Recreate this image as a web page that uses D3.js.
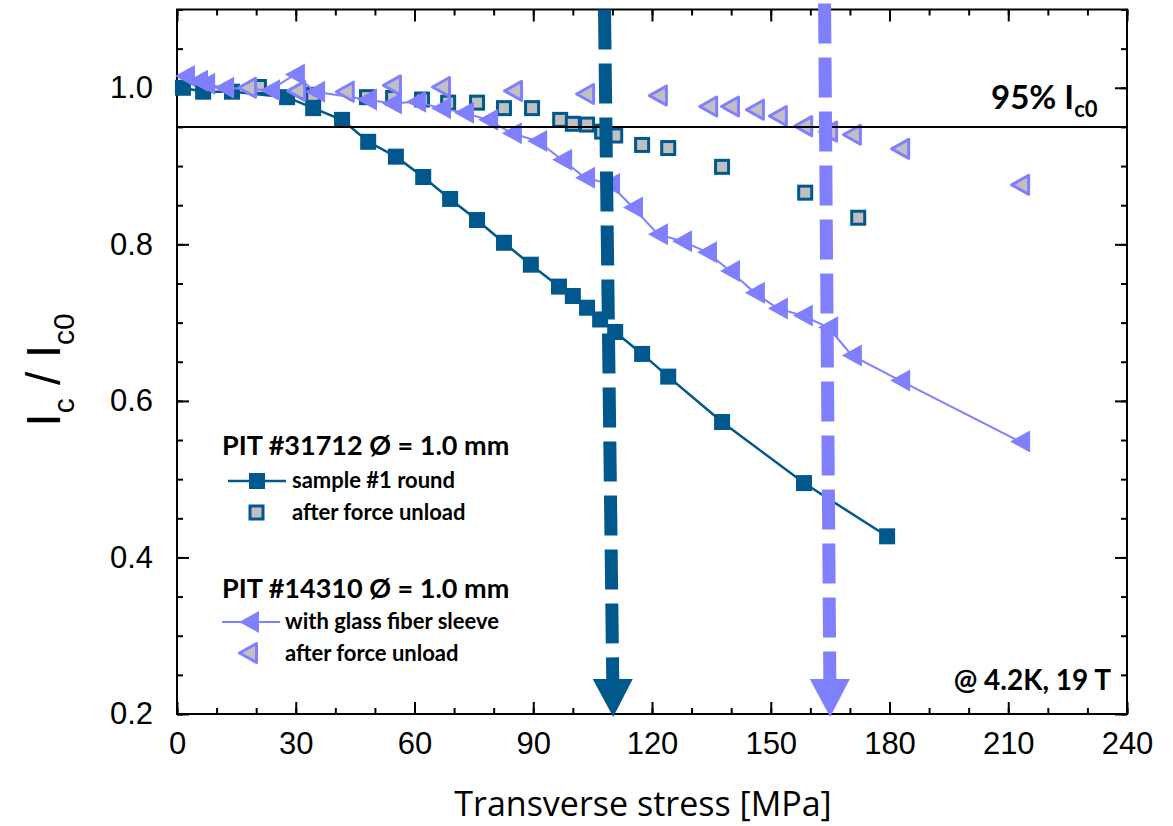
<!DOCTYPE html>
<html>
<head>
<meta charset="utf-8">
<script src="https://cdn.jsdelivr.net/npm/d3@7"></script>
<style>
  body { margin: 0; background: #fff; }
  svg { display: block; }
</style>
</head>
<body>
<div id="chart"></div>
<script>
// sample #1 round (PIT #31712)
const sampleX = [1.5, 6.6, 13.9, 27.8, 34.4, 41.7, 48.3, 55.3, 62.2, 69.0, 75.8, 82.6, 89.4, 96.5, 100.0, 103.6, 106.9, 110.7, 117.5, 124.1, 137.7, 158.4, 179.4];
const sampleY = [1.000, 0.995, 0.995, 0.988, 0.974, 0.959, 0.931, 0.912, 0.886, 0.858, 0.831, 0.802, 0.774, 0.746, 0.734, 0.719, 0.704, 0.688, 0.660, 0.631, 0.573, 0.495, 0.427];
// after force unload (squares)
const unloadSqX = [20.7, 34.4, 48.0, 54.6, 61.9, 68.5, 75.8, 82.6, 89.7, 96.8, 100.0, 103.6, 107.4, 110.7, 117.5, 124.1, 137.7, 158.7, 172.1];
const unloadSqY = [1.001, 0.991, 0.988, 0.987, 0.985, 0.981, 0.981, 0.974, 0.974, 0.959, 0.954, 0.953, 0.944, 0.939, 0.927, 0.923, 0.899, 0.866, 0.834];
// with glass fiber sleeve (PIT #14310)
const sleeveX = [2.0, 5.3, 7.1, 11.9, 23.5, 29.8, 34.9, 48.0, 54.3, 60.4, 66.7, 72.5, 78.6, 84.6, 91.0, 97.3, 103.1, 109.4, 115.2, 121.5, 127.6, 133.9, 139.7, 146.0, 151.8, 158.1, 164.5, 170.5, 182.7, 213.0];
const sleeveY = [1.015, 1.009, 1.005, 1.000, 0.997, 1.017, 0.995, 0.985, 0.980, 0.982, 0.974, 0.968, 0.959, 0.942, 0.932, 0.908, 0.885, 0.877, 0.847, 0.813, 0.804, 0.790, 0.766, 0.738, 0.718, 0.709, 0.694, 0.658, 0.626, 0.548];
// after force unload (triangles)
const unloadTriX = [17.7, 30.1, 42.4, 54.3, 66.7, 84.9, 103.1, 121.5, 134.2, 139.7, 146.0, 151.8, 158.2, 164.5, 170.5, 182.7, 213.0];
const unloadTriY = [1.000, 0.996, 0.995, 1.003, 1.001, 0.996, 0.992, 0.990, 0.976, 0.976, 0.972, 0.964, 0.951, 0.944, 0.940, 0.922, 0.876];

const xTicks = [0, 30, 60, 90, 120, 150, 180, 210, 240];
const yTicks = [0.2, 0.4, 0.6, 0.8, 1.0];
const limit95 = 0.95;
// dashed arrows: stress at top and at tip
const arrowTop = [108.0, 163.6];
const arrowTip = [110.2, 165.0];

const dark = "#00588c", light = "#8080ff", grey = "#c0c0c0";

const width = 1173, height = 826;
const margin = {top: 9.5, right: 46, bottom: 112, left: 177};

const svg = d3.select("#chart").append("svg")
  .attr("width", width).attr("height", height);

const x = d3.scaleLinear().domain([0, 240]).range([margin.left, width - margin.right]);
const y = d3.scaleLinear().domain([0.2, 1.1]).range([height - margin.bottom, margin.top]);

const tickFont = "'Liberation Sans', Arial, sans-serif";

// axes: major + minor ticks, pointing inward
const minorX = d3.range(0, 241, 10);
const minorY = d3.range(0.2, 1.1001, 0.05);

function styleAxis(g) {
  g.select(".domain").remove();
  g.selectAll(".tick line").attr("stroke", "#000").attr("stroke-width", 2);
  g.selectAll("text").attr("font-family", tickFont).attr("font-size", 31).attr("fill", "#000");
}

svg.append("g").attr("transform", `translate(0,${y(0.2)})`)
  .call(d3.axisBottom(x).tickValues(minorX).tickSize(-6).tickFormat(""))
  .call(styleAxis);
svg.append("g").attr("transform", `translate(0,${y(0.2)})`)
  .call(d3.axisBottom(x).tickValues(xTicks).tickSize(-12).tickPadding(18).tickFormat(d3.format("d")))
  .call(styleAxis);
svg.append("g").attr("transform", `translate(0,${y(1.1)})`)
  .call(d3.axisTop(x).tickValues(minorX).tickSize(-6).tickFormat(""))
  .call(styleAxis);
svg.append("g").attr("transform", `translate(0,${y(1.1)})`)
  .call(d3.axisTop(x).tickValues(xTicks).tickSize(-12).tickFormat(""))
  .call(styleAxis);

svg.append("g").attr("transform", `translate(${x(0)},0)`)
  .call(d3.axisLeft(y).tickValues(minorY).tickSize(-6).tickFormat(""))
  .call(styleAxis);
svg.append("g").attr("transform", `translate(${x(0)},0)`)
  .call(d3.axisLeft(y).tickValues(yTicks).tickSize(-12).tickPadding(24).tickFormat(d3.format(".1f")))
  .call(styleAxis);
svg.append("g").attr("transform", `translate(${x(240)},0)`)
  .call(d3.axisRight(y).tickValues(minorY).tickSize(-6).tickFormat(""))
  .call(styleAxis);
svg.append("g").attr("transform", `translate(${x(240)},0)`)
  .call(d3.axisRight(y).tickValues(yTicks).tickSize(-12).tickFormat(""))
  .call(styleAxis);

svg.append("rect")
  .attr("x", x(0)).attr("y", y(1.1))
  .attr("width", x(240) - x(0)).attr("height", y(0.2) - y(1.1))
  .attr("fill", "none").attr("stroke", "#000").attr("stroke-width", 2);

// marker helpers
const triPath = (cx, cy, w, h) => `M${cx - w/2},${cy}L${cx + w/2},${cy - h/2}L${cx + w/2},${cy + h/2}Z`;

const sample = sampleX.map((v, i) => [v, sampleY[i]]);
const unloadSq = unloadSqX.map((v, i) => [v, unloadSqY[i]]);
const sleeve = sleeveX.map((v, i) => [v, sleeveY[i]]);
const unloadTri = unloadTriX.map((v, i) => [v, unloadTriY[i]]);

const line = d3.line().x(d => x(d[0])).y(d => y(d[1]));

// sample #1 round
svg.append("path").datum(sample).attr("d", line)
  .attr("fill", "none").attr("stroke", dark).attr("stroke-width", 2.5);
svg.selectAll(".sq").data(sample).enter().append("rect")
  .attr("x", d => x(d[0]) - 8).attr("y", d => y(d[1]) - 8)
  .attr("width", 16).attr("height", 16).attr("fill", dark);

// unload squares
svg.selectAll(".usq").data(unloadSq).enter().append("rect")
  .attr("x", d => x(d[0]) - 6.5).attr("y", d => y(d[1]) - 6.5)
  .attr("width", 13).attr("height", 13)
  .attr("fill", grey).attr("stroke", dark).attr("stroke-width", 3);

// glass fibre sleeve
svg.append("path").datum(sleeve).attr("d", line)
  .attr("fill", "none").attr("stroke", light).attr("stroke-width", 2);
svg.selectAll(".tri").data(sleeve).enter().append("path")
  .attr("d", d => triPath(x(d[0]), y(d[1]), 20, 22))
  .attr("fill", light);

// unload triangles
svg.selectAll(".utri").data(unloadTri).enter().append("path")
  .attr("d", d => triPath(x(d[0]), y(d[1]), 17, 19))
  .attr("fill", grey).attr("stroke", light).attr("stroke-width", 3).attr("stroke-linejoin", "round");

// 95% line
svg.append("line")
  .attr("x1", x(0)).attr("x2", x(240))
  .attr("y1", y(limit95)).attr("y2", y(limit95))
  .attr("stroke", "#000").attr("stroke-width", 2);

const boldFont = "Lato, 'Open Sans', sans-serif";
const lbl95 = svg.append("text").attr("x", 991).attr("y", 109)
  .attr("font-family", boldFont).attr("font-weight", "bold").attr("font-size", 33);
lbl95.append("tspan").text("95% I");
lbl95.append("tspan").attr("font-size", 22).attr("dy", 8).text("c0");

// dashed arrows
[dark, light].forEach((c, i) => {
  const xt = x(arrowTop[i]), xb = x(arrowTip[i]);
  const tipY = y(0.2) + 3, headH = 38;
  const baseY = tipY - headH;
  const topY = i === 0 ? y(1.1) : y(1.1) - 6;
  const xBase = xt + (xb - xt) * (baseY - topY) / (tipY - topY);
  svg.append("line")
    .attr("x1", xt).attr("y1", topY).attr("x2", xBase).attr("y2", baseY)
    .attr("stroke", c).attr("stroke-width", 13).attr("stroke-dasharray", "40,14");
  svg.append("path")
    .attr("d", `M${xBase - 20},${baseY}L${xBase + 20},${baseY}L${xb},${tipY}Z`)
    .attr("fill", c);
});

// legend
const lg = svg.append("g").attr("font-family", boldFont).attr("font-weight", "bold").attr("fill", "#000");
lg.append("text").attr("x", 222).attr("y", 455).attr("font-size", 27).text("PIT #31712 Ø = 1.0 mm");
lg.append("line").attr("x1", 228).attr("x2", 286).attr("y1", 481).attr("y2", 481)
  .attr("stroke", dark).attr("stroke-width", 2.5);
lg.append("rect").attr("x", 249).attr("y", 473).attr("width", 16).attr("height", 16).attr("fill", dark);
lg.append("text").attr("x", 292).attr("y", 488).attr("font-size", 22).text("sample #1 round");
lg.append("rect").attr("x", 250).attr("y", 506).attr("width", 13).attr("height", 13)
  .attr("fill", grey).attr("stroke", dark).attr("stroke-width", 3);
lg.append("text").attr("x", 292).attr("y", 520).attr("font-size", 22).text("after force unload");

lg.append("text").attr("x", 222).attr("y", 598).attr("font-size", 27).text("PIT #14310 Ø = 1.0 mm");
lg.append("line").attr("x1", 222).attr("x2", 280).attr("y1", 622).attr("y2", 622)
  .attr("stroke", light).attr("stroke-width", 2);
lg.append("path").attr("d", triPath(249, 622, 20, 22)).attr("fill", light);
lg.append("text").attr("x", 285).attr("y", 629).attr("font-size", 22).text("with glass fiber sleeve");
lg.append("path").attr("d", triPath(248, 653, 17, 19))
  .attr("fill", grey).attr("stroke", light).attr("stroke-width", 3).attr("stroke-linejoin", "round");
lg.append("text").attr("x", 285).attr("y", 661).attr("font-size", 22).text("after force unload");

lg.append("text").attr("x", 1111).attr("y", 690).attr("text-anchor", "end")
  .attr("font-size", 28).text("@ 4.2K, 19 T");

// axis titles
svg.append("text").attr("x", 643).attr("y", 816).attr("text-anchor", "middle")
  .attr("font-family", "'Open Sans', sans-serif").attr("font-size", 34).attr("fill", "#000")
  .text("Transverse stress [MPa]");

const yt = svg.append("text")
  .attr("transform", `translate(60,370) rotate(-90)`)
  .attr("text-anchor", "middle")
  .attr("font-family", tickFont).attr("font-size", 48).attr("fill", "#000");
yt.append("tspan").text("I");
yt.append("tspan").attr("font-size", 30).attr("dy", 14).text("c");
yt.append("tspan").attr("dy", -14).text(" / I");
yt.append("tspan").attr("font-size", 30).attr("dy", 14).text("c0");
</script>
</body>
</html>
